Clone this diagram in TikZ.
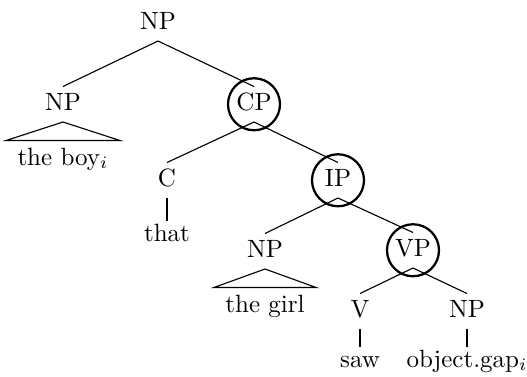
\documentclass[tikz,border=0pt]{standalone}
\begin{document}
\begin{tikzpicture}[x=0.4pt,y=-0.4pt,
  cat/.style={inner sep=0pt, text height=9.2pt, text depth=4.6pt, anchor=base},
  leaf/.style={inner sep=0pt, text height=8pt, text depth=0pt, anchor=base},
  trileaf/.style={inner xsep=4.4pt, inner ysep=0pt, text height=9.6pt, anchor=base},
  ring/.style={line width=0.9pt},
  edge/.style={line width=0.45pt}]
\useasboundingbox (0,0) rectangle (527,376);
% nodes
\node[cat] (np0) at (158,29) {NP};
\node[cat] (np1) at (63,110) {NP};
\node[cat] (cp) at (254,110) {CP};
\node[trileaf] (boy) at (63,165) {the boy$_i$};
\node[cat] (c) at (167,186) {C};
\node[cat] (ip) at (338,186) {IP};
\node[leaf] (that) at (167,241) {that};
\node[cat] (np2) at (265,257) {NP};
\node[cat] (vp) at (413,256) {VP};
\node[trileaf] (girl) at (265,312) {the girl};
\node[cat] (v) at (360,317) {V};
\node[cat] (np3) at (467,317) {NP};
\node[leaf] (saw) at (360,367) {saw};
\node[leaf] (obj) at (467,367) {object.gap$_i$};
% edges
\draw[edge] (np0.south) -- (np1.north);
\draw[edge] (np0.south) -- (cp.north);
\draw[edge] (cp.south) -- (c.north);
\draw[edge] (cp.south) -- (ip.north);
\draw[edge] (ip.south) -- (np2.north);
\draw[edge] (ip.south) -- (vp.north);
\draw[edge] (vp.south) -- (v.north);
\draw[edge] (vp.south) -- (np3.north);
\draw[edge] (c.south) -- (that.north);
\draw[edge] (v.south) -- (saw.north);
\draw[edge] (np3.south) -- (obj.north);
% triangles
\draw[edge] (np1.south) -- (boy.north west) -- (boy.north east) -- cycle;
\draw[edge] (np2.south) -- (girl.north west) -- (girl.north east) -- cycle;
% circles
\draw[ring] (cp.center) circle[radius=10.4pt];
\draw[ring] (ip.center) circle[radius=10.4pt];
\draw[ring] (vp.center) circle[radius=10.4pt];
\end{tikzpicture}
\end{document}
